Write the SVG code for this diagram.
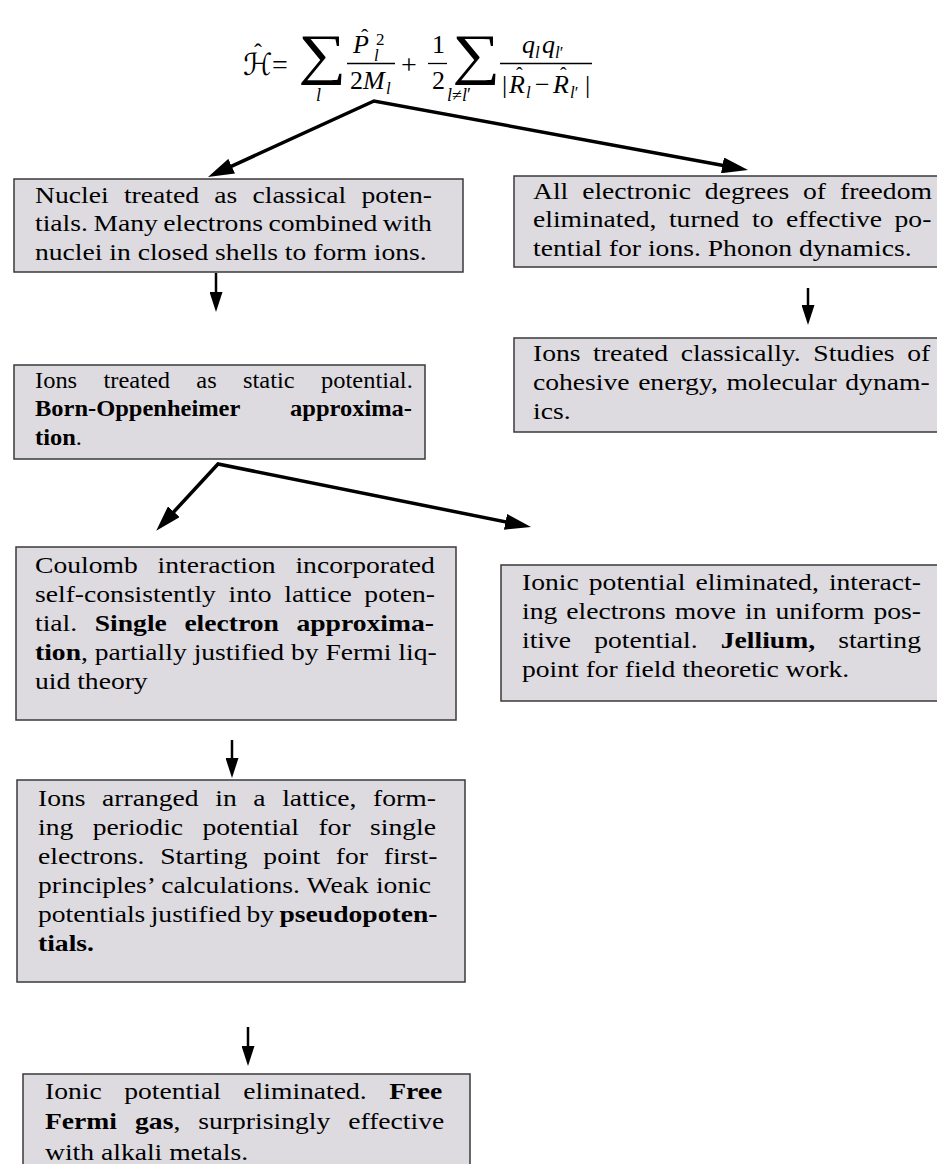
<svg xmlns="http://www.w3.org/2000/svg" width="937" height="1164" viewBox="0 0 937 1164">
<style>
.box{fill:#dddbe0;stroke:#3a3a3a;stroke-width:1.5}
.t{font-family:"Liberation Serif","Times New Roman",serif;font-size:24px;fill:#000}
.b{font-weight:bold}
.m{font-family:"Liberation Serif","Times New Roman",serif;fill:#000;font-size:26px}
.i{font-style:italic}
.big{fill:none;stroke:#000;stroke-width:3.5;stroke-linejoin:miter}
.sm{fill:none;stroke:#000;stroke-width:2.5}
.bar{stroke:#000;stroke-width:1.3}
</style>
<defs>
<marker id="ab" markerUnits="userSpaceOnUse" viewBox="0 0 26 16" refX="16" refY="8" markerWidth="26" markerHeight="16" orient="auto-start-reverse"><path d="M0,0L26,8L0,16z" fill="#000"/></marker>
<marker id="as" markerUnits="userSpaceOnUse" viewBox="0 0 20 13" refX="12" refY="6.5" markerWidth="20" markerHeight="13" orient="auto"><path d="M0,0L20,6.5L0,13z" fill="#000"/></marker>
</defs>

<g id="formula" class="m">
<text x="243" y="75" font-size="30" font-family="DejaVu Serif, DejaVu Sans, serif" font-style="italic">ℋ</text>
<text x="254" y="60" font-size="24">ˆ</text>
<text x="272" y="74" font-size="28">=</text>
<text font-size="56" transform="translate(298,73) scale(1.2,1)">∑</text>
<text x="316" y="101" font-size="18" class="i">l</text>
<text x="353" y="53" class="i">P</text>
<text x="361" y="44" font-size="22">ˆ</text>
<text x="376" y="45" font-size="17">2</text>
<text x="374" y="61" font-size="17" class="i">l</text>
<line class="bar" x1="347" y1="63.5" x2="395" y2="63.5"/>
<text x="350" y="89">2<tspan class="i">M</tspan></text>
<text x="386" y="94" font-size="17" class="i">l</text>
<text x="401" y="74" font-size="28">+</text>
<text x="432" y="53">1</text>
<line class="bar" x1="428" y1="63.5" x2="447" y2="63.5"/>
<text x="432" y="89">2</text>
<text font-size="56" transform="translate(452,73) scale(1.2,1)">∑</text>
<text x="447" y="101" font-size="18"><tspan class="i">l</tspan>≠<tspan class="i">l</tspan>′</text>
<text x="522" y="53" class="i">q</text>
<text x="535" y="58" font-size="17" class="i">l</text>
<text x="542" y="53" class="i">q</text>
<text x="555" y="58" font-size="17"><tspan class="i">l</tspan>′</text>
<line class="bar" x1="500" y1="63.5" x2="592" y2="63.5"/>
<text x="502" y="93">|</text>
<text x="509" y="93" class="i">R</text>
<text x="516" y="82" font-size="20">ˆ</text>
<text x="526" y="98" font-size="17" class="i">l</text>
<text x="535" y="93">−</text>
<text x="553" y="93" class="i">R</text>
<text x="560" y="82" font-size="20">ˆ</text>
<text x="570" y="98" font-size="17"><tspan class="i">l</tspan>′</text>
<text x="585" y="93">|</text>
</g>

<g id="n1">
<rect class="box" x="14" y="179" width="449" height="93"/>
<g class="t" transform="translate(35,0) scale(1.15,1)">
<text y="203" word-spacing="7.33">Nuclei treated as classical poten-</text>
<text y="231.5" word-spacing="-1.19">tials. Many electrons combined with</text>
<text y="260">nuclei in closed shells to form ions.</text>
</g>
</g>

<g id="n2">
<rect class="box" x="514" y="176" width="430" height="91"/>
<g class="t" transform="translate(533,0) scale(1.15,1)">
<text y="199" word-spacing="6.1">All electronic degrees of freedom</text>
<text y="227.5" word-spacing="4.91">eliminated, turned to effective po-</text>
<text y="256">tential for ions. Phonon dynamics.</text>
</g>
</g>

<g id="n4">
<rect class="box" x="514" y="338" width="430" height="94"/>
<g class="t" transform="translate(533,0) scale(1.15,1)">
<text y="361" word-spacing="4.92">Ions treated classically. Studies of</text>
<text y="390" word-spacing="1.46">cohesive energy, molecular dynam-</text>
<text y="419">ics.</text>
</g>
</g>

<g id="n3">
<rect class="box" x="14" y="365" width="411" height="94"/>
<g class="t" transform="translate(35,0) scale(1.02,1)">
<text y="388" word-spacing="19.8">Ions treated as static potential.</text>
<text y="416.5" word-spacing="43.2" class="b">Born-Oppenheimer approxima-</text>
<text y="445"><tspan class="b">tion</tspan>.</text>
</g>
</g>

<g id="n5">
<rect class="box" x="16" y="547" width="440" height="173"/>
<g class="t" transform="translate(35,0) scale(1.15,1)">
<text y="573" word-spacing="11.27">Coulomb interaction incorporated</text>
<text y="602" word-spacing="5.06">self-consistently into lattice poten-</text>
<text y="631" word-spacing="9.28">tial. <tspan class="b">Single electron approxima-</tspan></text>
<text y="660"><tspan class="b">tion</tspan>, partially justified by Fermi liq-</text>
<text y="689">uid theory</text>
</g>
</g>

<g id="n6">
<rect class="box" x="501" y="565" width="443" height="136"/>
<g class="t" transform="translate(522,0) scale(1.15,1)">
<text y="590" word-spacing="2.77">Ionic potential eliminated, interact-</text>
<text y="619" word-spacing="1.8">ing electrons move in uniform pos-</text>
<text y="648" word-spacing="14.1">itive potential. <tspan class="b">Jellium,</tspan> starting</text>
<text y="677">point for field theoretic work.</text>
</g>
</g>

<g id="n7">
<rect class="box" x="17" y="780" width="448" height="202"/>
<g class="t" transform="translate(38,0) scale(1.15,1)">
<text y="806" word-spacing="8.43">Ions arranged in a lattice, form-</text>
<text y="835" word-spacing="10.86">ing periodic potential for single</text>
<text y="864" word-spacing="7.69">electrons. Starting point for first-</text>
<text y="893" word-spacing="0.27">principles’ calculations. Weak ionic</text>
<text y="922" word-spacing="-1.32">potentials justified by <tspan class="b">pseudopoten-</tspan></text>
<text y="951" class="b">tials.</text>
</g>
</g>

<g id="n8">
<rect class="box" x="23" y="1074" width="447" height="100"/>
<g class="t" transform="translate(45,0) scale(1.15,1)">
<text y="1099" word-spacing="13.6">Ionic potential eliminated. <tspan class="b">Free</tspan></text>
<text y="1129.5" word-spacing="9.69"><tspan class="b">Fermi gas</tspan>, surprisingly effective</text>
<text y="1160">with alkali metals.</text>
</g>
</g>

<g id="connectors">
<path class="big" d="M217.1,172.8 L374,101 L738.2,168.2" marker-start="url(#ab)" marker-end="url(#ab)"/>
<path class="big" d="M163,523.5 L218,464 L521.2,525" marker-start="url(#ab)" marker-end="url(#ab)"/>
<line class="sm" x1="216" y1="273" x2="216" y2="304" marker-end="url(#as)"/>
<line class="sm" x1="808" y1="288" x2="808" y2="317" marker-end="url(#as)"/>
<line class="sm" x1="232" y1="740" x2="232" y2="770" marker-end="url(#as)"/>
<line class="sm" x1="248" y1="1027" x2="248" y2="1058" marker-end="url(#as)"/>
</g>
</svg>
